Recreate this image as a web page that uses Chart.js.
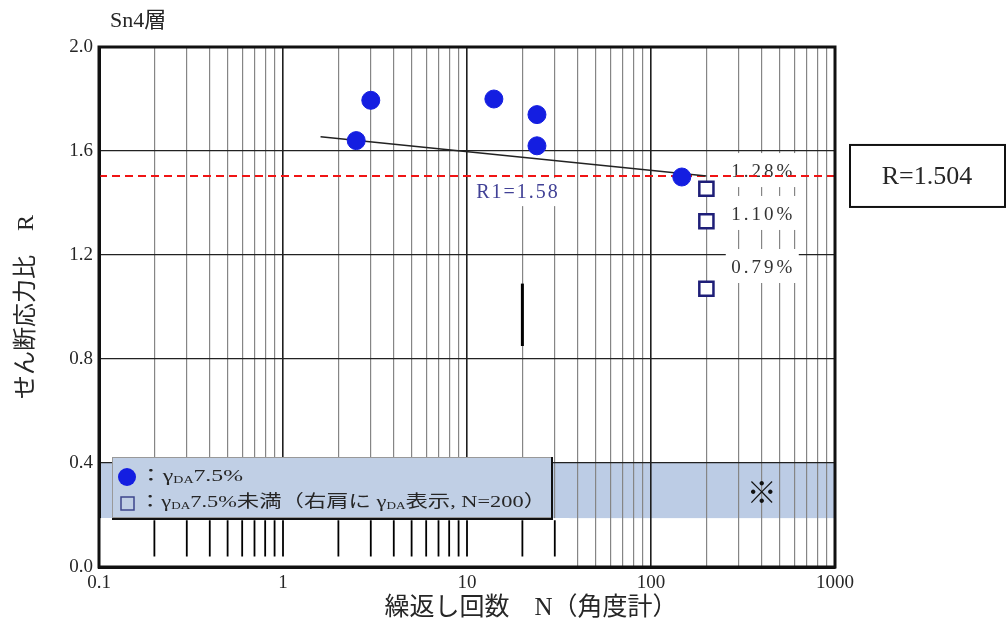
<!DOCTYPE html>
<html>
<head>
<meta charset="utf-8">
<script src="https://cdn.jsdelivr.net/npm/chart.js@4.4.0/dist/chart.umd.min.js"></script>
<style>
html, body { margin: 0; padding: 0; background: #fff; }
#wrap { width: 1008px; height: 629px; }
</style>
</head>
<body>
<div id="wrap"><canvas id="chart" width="1008" height="629"></canvas></div>
<script>
// axis ticks
const xDecades = [0.1, 1, 10, 100, 1000];
const xTickLabels = ['0.1', '1', '10', '100', '1000'];
const yTickValues = [0, 0.4, 0.8, 1.2, 1.6, 2.0];
const yTickLabels = ['0.0', '0.4', '0.8', '1.2', '1.6', '2.0'];

// γDA 7.5% reached (filled circles)
const fullN = [2.5, 3, 14, 24, 24, 147];
const fullR = [1.64, 1.795, 1.80, 1.74, 1.62, 1.50];
// γDA below 7.5% at N=200 (open squares)
const partN = [200, 200, 200];
const partR = [1.455, 1.33, 1.07];
const partGamma = ['1.28%', '1.10%', '0.79%'];
// fitted line
const fitN = [1.6, 200];
const fitR = [1.655, 1.504];
const fitLabel = 'R1=1.58';
// threshold
const rValue = 1.504;
// short black mark
const markN = [20, 20];
const markR = [0.85, 1.09];
// black marks under the band
const baseTickN = [0.2, 0.3, 0.4, 0.5, 0.6, 0.7, 0.8, 0.9, 1, 2, 3, 4, 5, 6, 7, 8, 9, 10, 20, 30];
const baseTickR = [0.04, 0.18];
// shaded band
const bandR = [0.188, 0.40];
const bandNote = '※';

const SERIF = '"Liberation Serif", "Noto Sans CJK JP", serif';
const TEXT = '#262626';

// label placement (data coords)
const gammaLabelN = 400;
const gammaLabelR = [1.519, 1.354, 1.15];
const fitLabelN = 18.7, fitLabelR = 1.438;
const noteN = 400;

function isDecade(v) { return xDecades.includes(v); }

const baseTicks = [];
baseTickN.forEach((n) => {
  baseTicks.push({x: n, y: baseTickR[0]});
  baseTicks.push({x: n, y: baseTickR[1]});
  baseTicks.push({x: n, y: null});
});

function drawRich(ctx, parts, x0, yc, targetW) {
  const main = '17px ' + SERIF, sub = '10px ' + SERIF;
  let w = 0;
  parts.forEach((p) => { ctx.font = p.sub ? sub : main; w += ctx.measureText(p.t).width; });
  const sx = targetW / w;
  ctx.save();
  ctx.translate(x0, yc);
  ctx.scale(sx, 1);
  ctx.textAlign = 'left';
  ctx.textBaseline = 'middle';
  let cx = 0;
  parts.forEach((p) => {
    ctx.font = p.sub ? sub : main;
    ctx.fillText(p.t, cx, p.sub ? 3 : 0);
    cx += ctx.measureText(p.t).width;
  });
  ctx.restore();
}

const decor = {
  id: 'decor',
  beforeDraw(chart) {
    const {ctx, chartArea: a, scales: {y}} = chart;
    // band under the grid
    const bTop = y.getPixelForValue(bandR[1]), bBot = y.getPixelForValue(bandR[0]);
    ctx.save();
    ctx.fillStyle = 'rgb(188,204,229)';
    ctx.fillRect(a.left, bTop, a.right - a.left, bBot - bTop);
    ctx.restore();
  },
  beforeDatasetsDraw(chart) {
    const {ctx, chartArea: a, scales: {x, y}} = chart;
    ctx.save();
    // blank strip under band on the left
    const bBot = y.getPixelForValue(bandR[0]);
    ctx.fillStyle = '#fff';
    ctx.fillRect(a.left, bBot, x.getPixelForValue(36) - a.left, a.bottom - bBot);
    // γ labels next to squares
    ctx.font = '19px ' + SERIF;
    ctx.letterSpacing = '3px';
    ctx.textAlign = 'center';
    ctx.textBaseline = 'middle';
    partGamma.forEach((t, i) => {
      const px = x.getPixelForValue(gammaLabelN), py = y.getPixelForValue(gammaLabelR[i]);
      ctx.fillStyle = '#fff';
      ctx.fillRect(px - 36, py - 19, 73, 34);
      ctx.fillStyle = '#333';
      ctx.fillText(t, px + 1.5, py);
    });
    // fit label
    ctx.font = '20px ' + SERIF;
    ctx.letterSpacing = '2px';
    const fx = x.getPixelForValue(fitLabelN), fy = y.getPixelForValue(fitLabelR);
    ctx.fillStyle = '#fff';
    ctx.fillRect(fx - 49, fy - 15, 98, 28);
    ctx.fillStyle = 'rgb(65,65,150)';
    ctx.fillText(fitLabel, fx + 1, fy);
    // note mark in the band
    ctx.letterSpacing = '0px';
    ctx.font = '30px "Noto Sans CJK JP"';
    ctx.fillStyle = '#111';
    ctx.fillText(bandNote, x.getPixelForValue(noteN), y.getPixelForValue((bandR[0] + bandR[1]) / 2) + 1);
    ctx.restore();
  },
  afterDraw(chart) {
    const {ctx, chartArea: a, scales: {y}} = chart;
    ctx.save();
    // frame
    ctx.strokeStyle = '#111';
    ctx.lineWidth = 3;
    ctx.strokeRect(a.left, a.top, a.right - a.left, a.bottom - a.top);

    // legend
    ctx.fillStyle = 'rgb(192,207,229)';
    ctx.fillRect(112, 457, 440, 61);
    ctx.lineWidth = 1;
    ctx.strokeStyle = '#999';
    ctx.strokeRect(112.5, 457.5, 439, 60);
    ctx.lineWidth = 2;
    ctx.strokeStyle = '#111';
    ctx.beginPath();
    ctx.moveTo(552, 457); ctx.lineTo(552, 519); ctx.lineTo(112, 519);
    ctx.stroke();
    ctx.fillStyle = 'rgb(20,30,225)';
    ctx.beginPath(); ctx.arc(127, 477, 9, 0, Math.PI * 2); ctx.fill();
    ctx.strokeStyle = 'rgb(60,70,140)';
    ctx.lineWidth = 1.5;
    ctx.strokeRect(121, 497, 13, 13);
    ctx.fillStyle = TEXT;
    drawRich(ctx, [{t: '：γ'}, {t: 'DA', sub: true}, {t: '7.5%'}], 139, 477, 104);
    drawRich(ctx, [{t: '：γ'}, {t: 'DA', sub: true}, {t: '7.5%未満（右肩に γ'}, {t: 'DA', sub: true}, {t: '表示, N=200）'}], 139, 503, 407);

    // R value box
    const ry = y.getPixelForValue(rValue);
    ctx.fillStyle = '#fff';
    ctx.fillRect(850, ry - 31, 155, 62);
    ctx.strokeStyle = '#111';
    ctx.lineWidth = 2;
    ctx.strokeRect(850, ry - 31, 155, 62);
    ctx.fillStyle = TEXT;
    ctx.font = '26px ' + SERIF;
    ctx.textAlign = 'center';
    ctx.textBaseline = 'middle';
    ctx.fillText('R=' + rValue.toFixed(3), 927, ry + 1);

    // titles
    ctx.font = '22px ' + SERIF;
    ctx.textAlign = 'left';
    ctx.fillText('Sn4層', 110, 21);
    ctx.font = '25px ' + SERIF;
    ctx.textAlign = 'center';
    ctx.fillText('繰返し回数　N（角度計）', 531, 608);
    ctx.restore();
  }
};

const ctx = document.getElementById('chart').getContext('2d');
const chart = new Chart(ctx, {
  type: 'scatter',
  data: {
    datasets: [
      {
        data: fullN.map((n, i) => ({x: n, y: fullR[i]})),
        pointStyle: 'circle',
        pointRadius: 9,
        backgroundColor: 'rgb(20,30,225)',
        borderColor: 'rgb(20,30,225)',
        borderWidth: 1,
        showLine: false
      },
      {
        data: partN.map((n, i) => ({x: n, y: partR[i]})),
        pointStyle: 'rect',
        pointRadius: 10,
        backgroundColor: '#fff',
        borderColor: 'rgb(30,30,120)',
        borderWidth: 2.5,
        showLine: false
      },
      {
        data: fitN.map((n, i) => ({x: n, y: fitR[i]})),
        showLine: true,
        pointRadius: 0,
        borderColor: '#222',
        borderWidth: 1.5
      },
      {
        data: [{x: xDecades[0], y: rValue}, {x: xDecades[xDecades.length - 1], y: rValue}],
        showLine: true,
        pointRadius: 0,
        borderColor: 'rgb(240,20,20)',
        borderWidth: 2,
        borderDash: [8, 5]
      },
      {
        data: markN.map((n, i) => ({x: n, y: markR[i]})),
        showLine: true,
        pointRadius: 0,
        borderColor: '#000',
        borderWidth: 3
      },
      {
        data: baseTicks,
        showLine: true,
        spanGaps: false,
        pointRadius: 0,
        borderColor: '#000',
        borderWidth: 1.8
      }
    ]
  },
  options: {
    responsive: false,
    animation: false,
    events: [],
    layout: {padding: {left: 0, right: 173, top: 47, bottom: 0}},
    plugins: {legend: {display: false}, tooltip: {enabled: false}},
    scales: {
      x: {
        type: 'logarithmic',
        min: xDecades[0],
        max: xDecades[xDecades.length - 1],
        afterBuildTicks: (axis) => {
          const t = [];
          for (let i = 0; i < xDecades.length - 1; i++) {
            for (let m = 1; m <= 9; m++) t.push({value: m * xDecades[i]});
          }
          t.push({value: xDecades[xDecades.length - 1]});
          axis.ticks = t;
        },
        afterFit: (s) => { s.height = 62; },
        ticks: {
          autoSkip: false,
          maxRotation: 0,
          minRotation: 0,
          padding: 5,
          color: TEXT,
          font: {family: SERIF, size: 19},
          callback: (v) => {
            const i = xDecades.indexOf(v);
            return i >= 0 ? xTickLabels[i] : '';
          }
        },
        grid: {
          drawTicks: false,
          color: (c) => (c.tick && isDecade(c.tick.value)) ? '#1e1e1e' : '#858585',
          lineWidth: (c) => (c.tick && isDecade(c.tick.value)) ? 1.6 : 1.2
        },
        border: {color: '#111', width: 3}
      },
      y: {
        min: 0,
        max: 2.0,
        afterFit: (s) => { s.width = 99; },
        ticks: {
          stepSize: 0.4,
          padding: 6,
          color: TEXT,
          font: {family: SERIF, size: 19},
          callback: (v) => {
            const i = yTickValues.findIndex((t) => Math.abs(t - v) < 1e-6);
            return i >= 0 ? yTickLabels[i] : '';
          }
        },
        grid: {drawTicks: false, color: '#222', lineWidth: 1.3},
        border: {color: '#111', width: 3},
        title: {
          display: true,
          text: 'せん断応力比　R',
          color: TEXT,
          font: {family: SERIF, size: 24},
          padding: {top: 12, bottom: 0}
        }
      }
    }
  },
  plugins: [decor]
});
</script>
</body>
</html>
